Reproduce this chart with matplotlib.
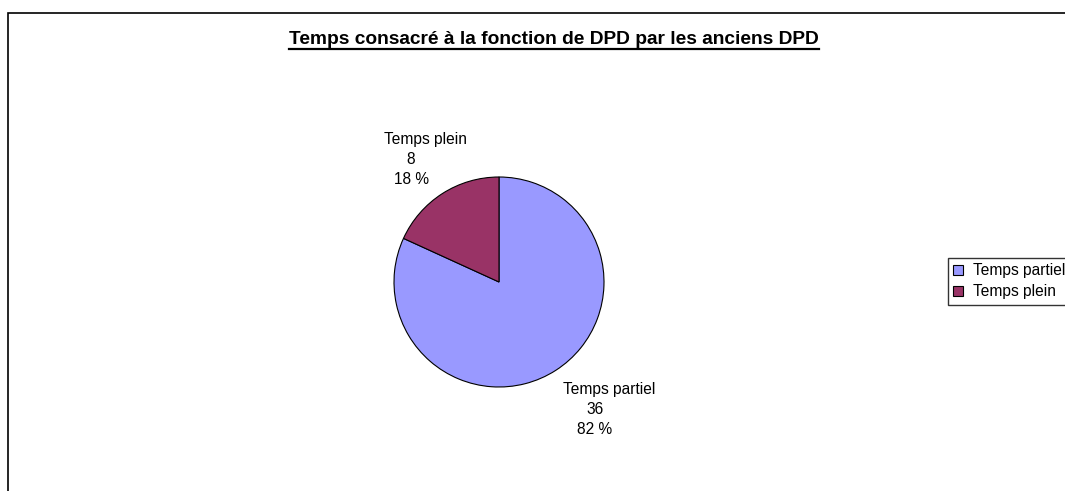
import matplotlib
matplotlib.use("Agg")
import matplotlib.pyplot as plt
from matplotlib.patches import Rectangle
from matplotlib.lines import Line2D

plt.rcParams['font.family'] = ['Liberation Sans', 'DejaVu Sans']

title = "Temps consacré à la fonction de DPD par les anciens DPD"
categories = ["Temps partiel", "Temps plein"]
values = [36, 8]
colors = ["#9999FF", "#993366"]

W, H = 1065, 491
fig = plt.figure(figsize=(W / 100, H / 100), dpi=100)

# outer chart frame (extends beyond right and bottom edges)
fig.patches.append(Rectangle((8 / W, -0.1), 1.2, 1 - 13 / H + 0.1,
                             transform=fig.transFigure, fill=False,
                             edgecolor="black", linewidth=1.2))

# pie axes: center (499,282), radius 105 px
cx, cy, r = 499, 282, 105
ax = fig.add_axes([(cx - r) / W, 1 - (cy + r) / H, 2 * r / W, 2 * r / H])
wedges, _ = ax.pie(values, colors=colors, startangle=90, counterclock=False,
                   wedgeprops=dict(edgecolor="black", linewidth=0.8))
ax.set_xlim(-1, 1)
ax.set_ylim(-1, 1)
ax.set_aspect("equal")
ax.axis("off")

total = sum(values)
# label anchor (center of value line) in data units, 1 unit = 105 px
label_pos = [(0.914, -1.21), (-0.838, 1.171)]
step = 20 / r
name_shift = 14 / r
for cat, v, (lx, ly) in zip(categories, values, label_pos):
    pct = round(100 * v / total)
    ax.text(lx + name_shift, ly + step, cat, ha="center", va="center",
            fontsize=11.2, clip_on=False)
    ax.text(lx, ly, f"{v}", ha="center", va="center",
            fontsize=11.2, clip_on=False)
    ax.text(lx, ly - step, f"{pct} %", ha="center", va="center",
            fontsize=11.2, clip_on=False)

# title with underline
t = fig.text(554 / W, 1 - 39 / H, title, ha="center", va="center",
             fontsize=13.8, fontweight="bold")
fig.canvas.draw()
bb = t.get_window_extent(renderer=fig.canvas.get_renderer())
uy = bb.y0 - 1
fig.add_artist(Line2D([bb.x0 / W, bb.x1 / W], [uy / H, uy / H],
                      transform=fig.transFigure, color="black", linewidth=1.6))

leg = fig.legend(wedges, categories, loc="upper left",
                 bbox_to_anchor=(948 / W, 1 - 258 / H), fontsize=11.2,
                 frameon=True, fancybox=False, edgecolor="black",
                 handlelength=0.64, handleheight=0.64, handletextpad=0.6,
                 borderpad=0.35, labelspacing=0.38, borderaxespad=0)
leg.get_frame().set_linewidth(1.0)

fig.savefig("out.png", dpi=100)
